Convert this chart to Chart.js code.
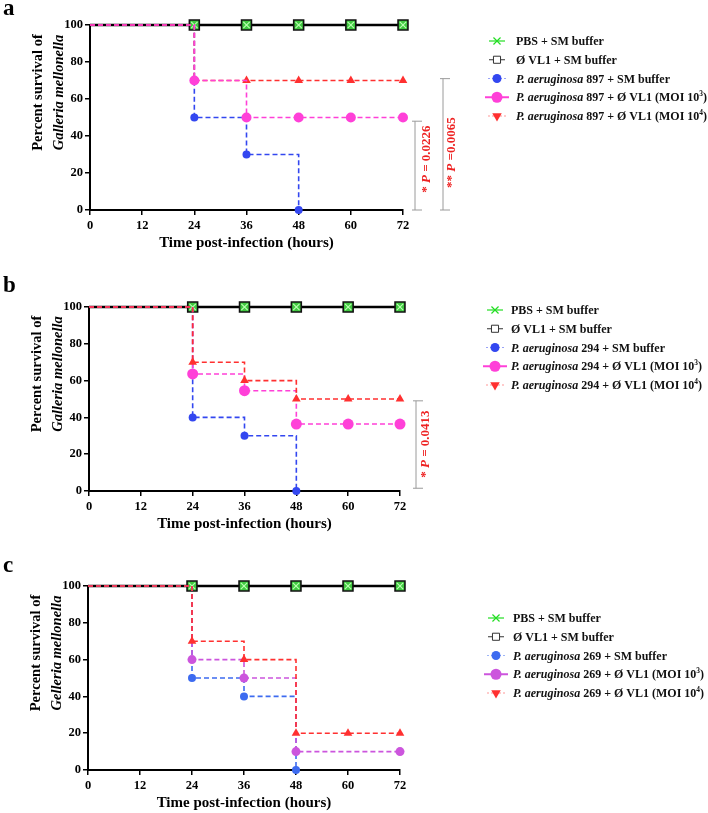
<!DOCTYPE html>
<html>
<head>
<meta charset="utf-8">
<script src="https://cdn.jsdelivr.net/npm/chart.js@4.4.0/dist/chart.umd.min.js"></script>
<style>
  body { margin: 0; width: 708px; height: 813px; overflow: hidden; background: #fff; position: relative; }
  canvas { position: absolute; left: 0; }
</style>
</head>
<body>
<canvas id="panelA" width="708" height="260" style="top:0px"></canvas>
<canvas id="panelB" width="708" height="281" style="top:260px"></canvas>
<canvas id="panelC" width="708" height="279" style="top:541px"></canvas>
<script>
// time points (hours) and percent survival per group
const hours = [0, 24, 36, 48, 60, 72];
const controlPbs = [100, 100, 100, 100, 100, 100];
const controlPhage = [100, 100, 100, 100, 100, 100];

const paA = [100, 50, 30, 0, null, null];
const moi3A = [100, 70, 50, 50, 50, 50];
const moi4A = [100, 70, 70, 70, 70, 70];

const paB = [100, 40, 30, 0, null, null];
const moi3B = [100, 63.6, 54.5, 36.4, 36.4, 36.4];
const moi4B = [100, 70, 60, 50, 50, 50];

const paC = [100, 50, 40, 0, null, null];
const moi3C = [100, 60, 50, 10, null, 10];
const moi4C = [100, 70, 60, 20, 20, 20];

const strains = ['897', '294', '269'];
const speciesNames = ['Galleria mellonella', 'Galleria mellonella', 'Gelleria mellonella'];
const pValuesA = ['0.0226', '0.0065'];
const pValuesB = ['0.0413'];

const FONT = '"Liberation Serif", "Times New Roman", serif';

function drawRich(ctx, parts, x, y, size, color) {
    let cx = x;
    for (const [text, style] of parts) {
        let s = style === 'sup' ? size * 0.62 : size;
        ctx.font = (style === 'i' ? 'italic ' : '') + 'bold ' + s + 'px ' + FONT;
        ctx.fillStyle = color;
        ctx.fillText(text, cx, style === 'sup' ? y - size * 0.36 : y);
        cx += ctx.measureText(text).width;
    }
    return cx - x;
}

function measureRich(ctx, parts, size) {
    let w = 0;
    for (const [text, style] of parts) {
        let s = style === 'sup' ? size * 0.62 : size;
        ctx.font = (style === 'i' ? 'italic ' : '') + 'bold ' + s + 'px ' + FONT;
        w += ctx.measureText(text).width;
    }
    return w;
}

function legendItems(strain, colors) {
    return [
        { parts: [['PBS + SM buffer', '']], marker: 'pbs' },
        { parts: [['Ø VL1 + SM buffer', '']], marker: 'phage' },
        { parts: [['P. aeruginosa', 'i'], [' ' + strain + ' + SM buffer', '']], marker: 'pa', color: colors.pa },
        { parts: [['P. aeruginosa', 'i'], [' ' + strain + ' + Ø VL1 (MOI 10', ''], ['3', 'sup'], [')', '']], marker: 'moi3', color: colors.moi3 },
        { parts: [['P. aeruginosa', 'i'], [' ' + strain + ' + Ø VL1 (MOI 10', ''], ['4', 'sup'], [')', '']], marker: 'moi4', color: colors.moi4 }
    ];
}

function drawLegendMarker(ctx, item, x, y) {
    const dp = Chart.helpers.drawPoint;
    ctx.save();
    if (item.marker === 'pbs') {
        ctx.strokeStyle = '#22dd22'; ctx.lineWidth = 1.2;
        ctx.beginPath(); ctx.moveTo(x - 8, y); ctx.lineTo(x + 8, y); ctx.stroke();
        dp(ctx, { pointStyle: 'crossRot', radius: 5, borderWidth: 1.3, rotation: 0 }, x, y);
    } else if (item.marker === 'phage') {
        ctx.strokeStyle = '#333'; ctx.lineWidth = 1;
        ctx.beginPath(); ctx.moveTo(x - 8, y); ctx.lineTo(x + 8, y); ctx.stroke();
        ctx.fillStyle = '#fff';
        dp(ctx, { pointStyle: 'rect', radius: 5, borderWidth: 1, rotation: 0 }, x, y);
    } else if (item.marker === 'pa') {
        ctx.strokeStyle = item.color; ctx.globalAlpha = 0.5; ctx.lineWidth = 1; ctx.setLineDash([2, 2]);
        ctx.beginPath(); ctx.moveTo(x - 9, y); ctx.lineTo(x + 9, y); ctx.stroke();
        ctx.globalAlpha = 1; ctx.setLineDash([]);
        ctx.fillStyle = item.color;
        dp(ctx, { pointStyle: 'circle', radius: 4.5, borderWidth: 0, rotation: 0 }, x, y);
    } else if (item.marker === 'moi3') {
        ctx.strokeStyle = item.color; ctx.lineWidth = 2;
        ctx.beginPath(); ctx.moveTo(x - 12, y); ctx.lineTo(x + 12, y); ctx.stroke();
        ctx.fillStyle = item.color;
        dp(ctx, { pointStyle: 'circle', radius: 5.5, borderWidth: 0, rotation: 0 }, x, y);
    } else {
        ctx.strokeStyle = item.color; ctx.globalAlpha = 0.5; ctx.lineWidth = 1; ctx.setLineDash([2, 2]);
        ctx.beginPath(); ctx.moveTo(x - 9, y); ctx.lineTo(x + 9, y); ctx.stroke();
        ctx.globalAlpha = 1; ctx.setLineDash([]);
        ctx.fillStyle = item.color;
        dp(ctx, { pointStyle: 'triangle', radius: 5.5, borderWidth: 0, rotation: 180 }, x, y);
    }
    ctx.restore();
}

// extra drawing: panel letter, y title, legend, significance brackets
const decorations = {
    id: 'decorations',
    afterDraw(chart, args, opts) {
        const ctx = chart.ctx;
        const area = chart.chartArea;
        const yScale = chart.scales.y;
        ctx.save();
        ctx.textBaseline = 'alphabetic';
        ctx.fillStyle = '#000';
        ctx.font = 'bold 23px ' + FONT;
        ctx.fillText(opts.letter, 3, opts.letterY);

        // y axis title, two lines, second one italic
        ctx.save();
        const cy = (area.top + area.bottom) / 2 - 25;
        ctx.textAlign = 'center';
        ctx.textBaseline = 'middle';
        ctx.translate(area.left - 52, cy);
        ctx.rotate(-Math.PI / 2);
        ctx.font = 'bold 14.5px ' + FONT;
        ctx.fillText('Percent survival of', 0, 0);
        ctx.font = 'italic bold 14.5px ' + FONT;
        ctx.fillText(opts.species, 0, 21);
        ctx.restore();

        // legend
        ctx.textBaseline = 'middle';
        ctx.textAlign = 'left';
        opts.legend.forEach((item, i) => {
            const y = opts.legendTop + i * 18.75;
            drawLegendMarker(ctx, item, opts.legendX, y);
            drawRich(ctx, item.parts, opts.textX, y + 1, 12, '#111');
        });

        // brackets
        for (const b of opts.brackets) {
            const x = area.right + b.dx;
            const y1 = yScale.getPixelForValue(b.from);
            const y2 = yScale.getPixelForValue(b.to);
            ctx.strokeStyle = '#9a9a9a';
            ctx.lineWidth = 1;
            ctx.beginPath();
            ctx.moveTo(x - 3, y1); ctx.lineTo(x + 7, y1);
            ctx.moveTo(x, y1); ctx.lineTo(x, y2);
            ctx.moveTo(x - 3, y2); ctx.lineTo(x + 7, y2);
            ctx.stroke();

            ctx.save();
            ctx.translate(area.right + b.textDx, yScale.getPixelForValue(b.textAt));
            ctx.rotate(-Math.PI / 2);
            const w = measureRich(ctx, b.parts, 13);
            drawRich(ctx, b.parts, -w / 2, 0, 13, '#ee2222');
            ctx.restore();
        }
        ctx.restore();
    }
};

function buildDatasets(pa, moi3, moi4, colors, redOnTop) {
    const pts = vals => hours.map((h, i) => ({ x: h, y: vals[i] }));
    const skipFirst = r => c => (c.dataIndex === 0 ? 0 : r);
    const common = { stepped: 'before', spanGaps: true, clip: false, fill: false };
    return [
        Object.assign({ label: 'moi3', order: redOnTop ? 1 : 0, data: pts(moi3), borderColor: colors.moi3,
            backgroundColor: colors.moi3, borderWidth: 1.6, borderDash: [5, 3], pointStyle: 'circle',
            pointRadius: skipFirst(colors.moi3R), pointBorderWidth: 0 }, common),
        Object.assign({ label: 'moi4', order: redOnTop ? 0 : 1, data: pts(moi4), borderColor: colors.moi4,
            backgroundColor: colors.moi4, borderWidth: 1.6, borderDash: [5, 3], pointStyle: 'triangle',
            pointRadius: skipFirst(5), pointBorderWidth: 0 }, common),
        Object.assign({ label: 'pa', order: 2, data: pts(pa), borderColor: colors.pa, backgroundColor: colors.pa,
            borderWidth: 1.6, borderDash: [5, 3], pointStyle: 'circle', pointRadius: skipFirst(4),
            pointBorderWidth: 0 }, common),
        // green control sits exactly under the black one: only its markers show
        Object.assign({ label: 'pbs', order: 3, data: pts(controlPbs), showLine: false,
            borderColor: '#22cc22', backgroundColor: '#22cc22', pointStyle: 'crossRot',
            pointRadius: skipFirst(4.5), pointBorderColor: '#b8ffb0', pointBorderWidth: 1.2 }, common),
        Object.assign({ label: 'phage', order: 4, data: pts(controlPhage), borderColor: '#000', backgroundColor: '#40c840',
            borderWidth: 2.5, pointStyle: 'rect', pointRadius: skipFirst(7),
            pointBackgroundColor: '#40c840', pointBorderColor: '#111', pointBorderWidth: 1.6 }, common)
    ];
}

function makePanel(cfg) {
    const canvas = document.getElementById(cfg.id);
    const h = canvas.height;
    return new Chart(canvas.getContext('2d'), {
        type: 'line',
        data: { datasets: buildDatasets(cfg.pa, cfg.moi3, cfg.moi4, cfg.colors, cfg.redOnTop) },
        plugins: [decorations],
        options: {
            responsive: false,
            animation: false,
            events: [],
            layout: { padding: { left: 0, right: 708 - cfg.right, top: cfg.top, bottom: 0 } },
            scales: {
                x: {
                    type: 'linear', min: 0, max: 72,
                    afterFit: s => { s.height = h - cfg.bottom; },
                    ticks: { stepSize: 12, color: '#000', padding: 3, font: { family: FONT, size: 12.5, weight: 'bold' } },
                    grid: { drawOnChartArea: false, drawTicks: true, tickLength: 5, color: '#000', lineWidth: 1.5 },
                    border: { color: '#000', width: 2 },
                    title: { display: true, text: 'Time post-infection (hours)', color: '#000',
                        padding: { top: 0, bottom: 8 }, font: { family: FONT, size: 15, weight: 'bold' } }
                },
                y: {
                    min: 0, max: 100,
                    afterFit: s => { s.width = cfg.left; },
                    ticks: { stepSize: 20, color: '#000', padding: 2, font: { family: FONT, size: 12.5, weight: 'bold' } },
                    grid: { drawOnChartArea: false, drawTicks: true, tickLength: 5, color: '#000', lineWidth: 1.5 },
                    border: { color: '#000', width: 2 }
                }
            },
            plugins: {
                legend: { display: false },
                tooltip: { enabled: false },
                decorations: {
                    letter: cfg.letter, letterY: cfg.letterY, species: cfg.species,
                    legend: legendItems(cfg.strain, cfg.colors),
                    legendTop: cfg.legendTop, legendX: cfg.legendX, textX: cfg.textX,
                    brackets: cfg.brackets
                }
            }
        }
    });
}

const colorsAB = { pa: '#3347f0', moi3: '#ff40d8', moi4: '#ff3030', moi3R: 5 };

makePanel({
    id: 'panelA', letter: 'a', letterY: 15, species: speciesNames[0], strain: strains[0],
    pa: paA, moi3: moi3A, moi4: moi4A, colors: colorsAB, redOnTop: false,
    left: 90, right: 403, top: 25, bottom: 210,
    legendTop: 41, legendX: 497, textX: 516,
    brackets: [
        { dx: 12, from: 48, to: 0, textDx: 24, textAt: 27.5,
          parts: [['* ', ''], ['P', 'i'], [' = ' + pValuesA[0], '']] },
        { dx: 40, from: 71, to: 0, textDx: 49, textAt: 31,
          parts: [['** ', ''], ['P', 'i'], [' =' + pValuesA[1], '']] }
    ]
});

makePanel({
    id: 'panelB', letter: 'b', letterY: 32, species: speciesNames[1], strain: strains[1],
    pa: paB, moi3: moi3B, moi4: moi4B, colors: Object.assign({}, colorsAB, { moi3R: 5.5 }), redOnTop: true,
    left: 89, right: 400, top: 47, bottom: 231,
    legendTop: 50, legendX: 495, textX: 511,
    brackets: [
        { dx: 16, from: 49, to: 1.5, textDx: 26, textAt: 25.5,
          parts: [['* ', ''], ['P', 'i'], [' = ' + pValuesB[0], '']] }
    ]
});

makePanel({
    id: 'panelC', letter: 'c', letterY: 31, species: speciesNames[2], strain: strains[2],
    pa: paC, moi3: moi3C, moi4: moi4C, redOnTop: true,
    colors: { pa: '#3d6bf0', moi3: '#cc55dd', moi4: '#ff3030', moi3R: 4.5 },
    left: 88, right: 400, top: 45, bottom: 229,
    legendTop: 77, legendX: 496, textX: 513,
    brackets: []
});
</script>
</body>
</html>
